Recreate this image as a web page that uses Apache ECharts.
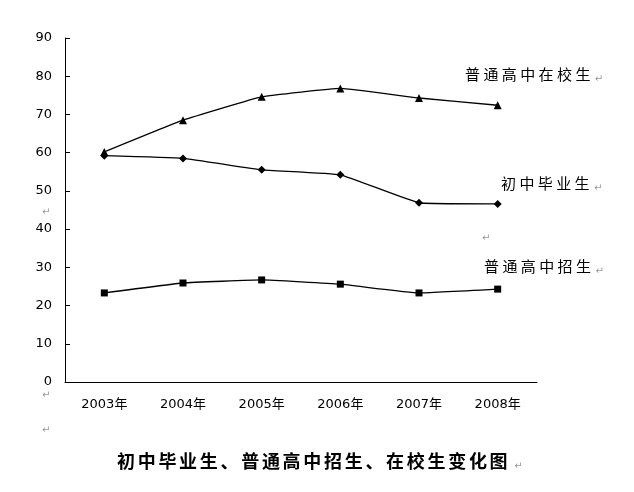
<!DOCTYPE html>
<html><head><meta charset="utf-8">
<script src="https://cdn.jsdelivr.net/npm/echarts@6/dist/echarts.min.js"></script>
<style>html,body{margin:0;padding:0;background:#fff}#c{width:634px;height:492px}</style>
</head><body><div id="c"></div>
<script>
const categories = ['2003年','2004年','2005年','2006年','2007年','2008年'];
const enrolled = [60.2, 68.5, 74.6, 76.8, 74.3, 72.4];
const graduates = [59.2, 58.5, 55.5, 54.2, 46.9, 46.6];
const recruits = [23.3, 25.9, 26.7, 25.6, 23.3, 24.3];
const yTicks = {min: 0, max: 90, interval: 10};
const seriesNames = ['普通高中在校生', '初中毕业生', '普通高中招生'];
const titleText = '初中毕业生、普通高中招生、在校生变化图';

const chart = echarts.init(document.getElementById('c'));
const cjk = '"Noto Sans CJK SC", sans-serif';
const num = '"DejaVu Sans", "Noto Sans CJK SC", sans-serif';
const mark = {fill: '#999', fontSize: 10, fontFamily: num};

function spaced(str, left, top, pitch, style, markGap) {
  const els = [];
  Array.from(str).forEach((ch, i) => {
    els.push({type: 'text', left: left + i * pitch, top: top,
      style: Object.assign({text: ch, fill: '#000', fontFamily: cjk}, style)});
  });
  els.push({type: 'text', left: left + str.length * pitch + markGap, top: top + (style.fontSize > 17 ? 9 : 7),
    style: Object.assign({text: '↵'}, mark)});
  return els;
}

const graphics = [].concat(
  spaced(seriesNames[0], 465, 67, 18.4, {fontSize: 15}, 1),
  spaced(seriesNames[1], 501, 176, 18.4, {fontSize: 15}, 1),
  spaced(seriesNames[2], 484, 259, 18.4, {fontSize: 15}, 1),
  spaced(titleText, 117, 452, 20.7, {fontSize: 18, fontWeight: 'bold'}, 4),
  [
    {type: 'text', left: 482, top: 233, style: Object.assign({text: '↵'}, mark)},
    {type: 'text', left: 42, top: 207, style: Object.assign({text: '↵'}, mark)},
    {type: 'text', left: 42, top: 390, style: Object.assign({text: '↵'}, mark)},
    {type: 'text', left: 42, top: 425, style: Object.assign({text: '↵'}, mark)}
  ]
);

chart.setOption({
  animation: false,
  backgroundColor: '#fff',
  grid: {left: 65, top: 38, right: 97, bottom: 110},
  xAxis: {
    type: 'category', data: categories, boundaryGap: true,
    axisLine: {lineStyle: {color: '#000', width: 1}},
    axisTick: {inside: true, length: 5, lineStyle: {color: '#000'}},
    axisLabel: {color: '#000', fontSize: 13, fontFamily: num, margin: 16}
  },
  yAxis: {
    type: 'value', min: yTicks.min, max: yTicks.max, interval: yTicks.interval,
    axisLine: {show: true, lineStyle: {color: '#000', width: 1}},
    axisTick: {show: true, inside: true, length: 5, lineStyle: {color: '#000'}},
    splitLine: {show: false},
    axisLabel: {color: '#000', fontSize: 13, fontFamily: num, margin: 13}
  },
  series: [
    {name: seriesNames[0], type: 'line', data: enrolled, smooth: 0.1, symbol: 'triangle', symbolSize: 8,
     lineStyle: {color: '#000', width: 1.3}, itemStyle: {color: '#000'}},
    {name: seriesNames[1], type: 'line', data: graduates, smooth: 0.1, symbol: 'diamond', symbolSize: 8,
     lineStyle: {color: '#000', width: 1.3}, itemStyle: {color: '#000'}},
    {name: seriesNames[2], type: 'line', data: recruits, smooth: 0.1, symbol: 'rect', symbolSize: 7,
     lineStyle: {color: '#000', width: 1.3}, itemStyle: {color: '#000'}}
  ],
  graphic: graphics
});
</script></body></html>
